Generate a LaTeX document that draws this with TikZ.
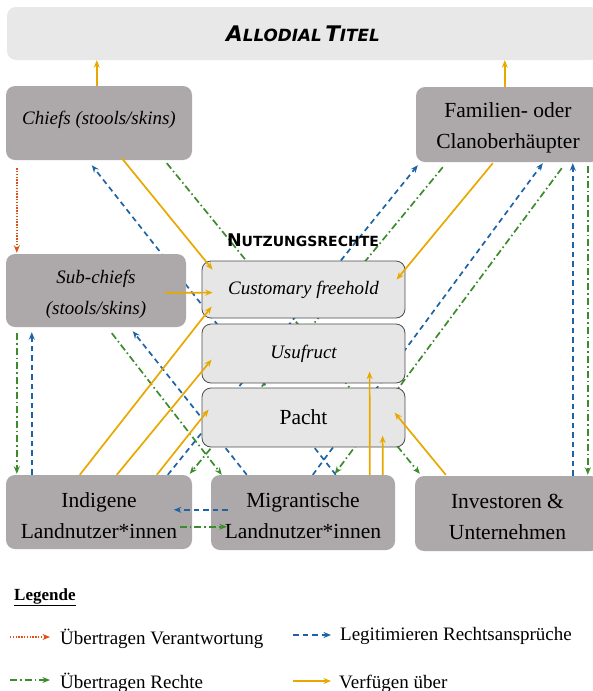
\documentclass[tikz,border=0pt]{standalone}
\usepackage{fontspec}
\setmainfont{Liberation Serif}
\newfontfamily\headfont{DejaVu Sans}
\usetikzlibrary{arrows.meta,calc}

\definecolor{boxdark}{RGB}{173,169,170}
\definecolor{boxlight}{RGB}{230,230,230}
\definecolor{boxtitle}{RGB}{232,232,232}
\definecolor{cOrange}{RGB}{226,80,20}
\definecolor{cBlue}{RGB}{30,100,165}
\definecolor{cGreen}{RGB}{60,140,45}
\definecolor{cYellow}{RGB}{232,168,0}

\newcommand\bigsc[2]{{\fontsize{21.5}{21.5}\selectfont #1}{\fontsize{16.8}{16.8}\selectfont #2}}
\newcommand\midsc[2]{{\fontsize{17.5}{17.5}\selectfont #1}{\fontsize{14}{14}\selectfont #2}}
\newcommand\itx{\fontsize{19}{31}\selectfont\itshape}
% push a two-line text down a little inside its box
\newcommand\lowr[1]{\raisebox{0pt}[\dimexpr\height+7pt\relax]{#1}}
% push a one-line text up a little inside its box
\newcommand\highr[1]{\raisebox{0pt}[\height][\dimexpr\depth+6pt\relax]{#1}}

\pgfdeclarelayer{back}
\pgfdeclarelayer{front}
\pgfsetlayers{back,main,front}

\tikzset{
  boxtext/.style={font=\fontsize{21.5}{31}\selectfont, align=center, inner sep=0pt},
  darkbox/.style={boxtext, fill=boxdark, rounded corners=9pt},
  lightbox/.style={boxtext, fill=boxlight, draw=black!70, line width=0.8pt, rounded corners=9pt},
  titlebox/.style={fill=boxtitle, rounded corners=9pt, inner sep=0pt},
  tipped/.style={-{Stealth[length=7.5pt,width=6pt]}},
  verant/.style={tipped, draw=cOrange, line width=1.5pt, dash pattern=on 1.4pt off 1.4pt},
  legit/.style={tipped, draw=cBlue, line width=1.7pt, dash pattern=on 5.5pt off 4pt},
  rechte/.style={tipped, draw=cGreen, line width=1.7pt, dash pattern=on 7pt off 3pt on 1.6pt off 3pt},
  verfueg/.style={tipped, draw=cYellow, line width=1.7pt},
  legtext/.style={font=\fontsize{19}{19}\selectfont, anchor=base west, inner sep=0pt},
}

\begin{document}
\begin{tikzpicture}[x=1pt,y=-1pt]
\useasboundingbox (0,0) rectangle (593,691);

% ---------- boxes ----------
\node[titlebox, minimum width=592pt, minimum height=53pt] (allodial) at (303,33.5)
  {\headfont\bfseries\itshape \bigsc{A}{LLODIAL} \bigsc{T}{ITEL}};
\node[darkbox, minimum width=186pt, minimum height=74pt] (chiefs) at (99,123)
  {\itx\highr{Chiefs (stools/skins)}};
\node[darkbox, minimum width=184pt, minimum height=75pt] (familien) at (508,124.5)
  {\lowr{Familien- oder}\\Clanoberhäupter};
\node[darkbox, minimum width=180pt, minimum height=73pt] (subchiefs) at (96,290.5)
  {\itx\lowr{Sub-chiefs}\\\itx (stools/skins)};
\node[lightbox, minimum width=203pt, minimum height=57pt] (cf) at (303.5,289.5)
  {\itx Customary freehold};
\node[lightbox, minimum width=203pt, minimum height=59pt] (usu) at (303.5,353.5)
  {\itx Usufruct};
\node[lightbox, minimum width=203pt, minimum height=59pt] (pacht) at (303.5,417.5)
  {Pacht};
\node[darkbox, minimum width=186pt, minimum height=74pt] (indig) at (99,512)
  {\lowr{Indigene}\\Landnutzer*innen};
\node[darkbox, minimum width=184pt, minimum height=75pt] (migr) at (303,512.5)
  {\lowr{Migrantische}\\Landnutzer*innen};
\node[darkbox, minimum width=185pt, minimum height=75pt] (invest) at (507.5,513.5)
  {\lowr{Investoren \&}\\Unternehmen};
\node[inner sep=0pt] (nutz) at (303,240)
  {\headfont\bfseries \midsc{N}{UTZUNGSRECHTE}};

% ---------- connectors behind the boxes ----------
\begin{pgfonlayer}{back}
\draw[verant] ($(chiefs.south west)+(11,8)$) -- ($(subchiefs.north west)+(11,-1)$);
\draw[legit]  ($(migr.north west)+(125,0)$) -- ($(chiefs.south west)+(86,5)$);
\draw[rechte] ($(chiefs.south west)+(161,3)$) -- ($(invest.north west)+(5,-2)$);
\draw[legit]  ($(indig.north west)+(162,0)$) -- ($(familien.south west)+(2,3)$);
\draw[rechte] ($(familien.south west)+(27,5)$) -- ($(indig.north west)+(184,-1)$);
\draw[rechte] ($(subchiefs.south west)+(106,6)$) -- ($(migr.north west)+(11,0)$);
\draw[legit]  ($(migr.north west)+(36,0)$) -- ($(subchiefs.south west)+(127,4)$);
\draw[rechte] ($(subchiefs.south west)+(11,6)$) -- ($(indig.north west)+(11,-1)$);
\draw[legit]  ($(indig.north west)+(26,0)$) -- ($(subchiefs.south west)+(26,5)$);
\draw[legit]  ($(invest.north west)+(158,0)$) -- ($(familien.south west)+(157,1)$);
\draw[rechte] ($(familien.south west)+(172,4)$) -- ($(invest.north west)+(173,-1)$);
\draw[legit]  ($(migr.north west)+(102,0)$) -- ($(familien.south west)+(127,1)$);
\draw[rechte] ($(familien.south west)+(146,6)$) -- ($(migr.north west)+(124,-1)$);
\end{pgfonlayer}

% ---------- connectors in front ----------
\begin{pgfonlayer}{front}
\draw[verfueg] ($(chiefs.north west)+(91,0)$) -- ($(allodial.south west)+(90,0)$);
\draw[verfueg] ($(familien.north west)+(89,0)$) -- ($(allodial.south west)+(498,0)$);
\draw[verfueg] ($(chiefs.south west)+(116,-2)$) -- ($(cf.north west)+(11,9)$);
\draw[verfueg] ($(subchiefs.north west)+(159,39)$) -- ($(cf.north west)+(11,32)$);
\draw[verfueg] ($(indig.north west)+(74,0)$) -- ($(cf.north west)+(10,46)$);
\draw[verfueg] ($(indig.north west)+(111,0)$) -- ($(usu.north west)+(10,36)$);
\draw[verfueg] ($(indig.north west)+(151,0)$) -- ($(pacht.north west)+(7,22)$);
\draw[verfueg] ($(familien.south west)+(77,1)$) -- ($(cf.north west)+(195,19)$);
\draw[verfueg] ($(migr.north west)+(159,0)$) -- ($(usu.north west)+(168,48)$);
\draw[verfueg] ($(migr.north west)+(172,0)$) -- ($(pacht.north west)+(181,48)$);
\draw[verfueg] ($(invest.north west)+(31,-1)$) -- ($(pacht.north west)+(193,25)$);
\draw[legit]  ($(migr.north west)+(17,35)$) -- ($(indig.north west)+(168,35)$);
\draw[rechte] ($(indig.north west)+(174,52)$) -- ($(migr.north west)+(16,52)$);
\end{pgfonlayer}

% ---------- legend ----------
\node[inner sep=0pt, anchor=base west, font=\fontsize{17}{17}\selectfont\bfseries] (leg) at (14,600)
  {\underline{Legende}};
\coordinate (l1a) at (10,637);  \coordinate (l1b) at (50,637);
\coordinate (l2a) at (293,635); \coordinate (l2b) at (331,635);
\coordinate (l3a) at (10,680);  \coordinate (l3b) at (50,680);
\coordinate (l4a) at (293,681); \coordinate (l4b) at (331,681);
\draw[verant] (l1a) -- (l1b);
\draw[legit]  (l2a) -- (l2b);
\draw[rechte] (l3a) -- (l3b);
\draw[verfueg] (l4a) -- (l4b);
\node[legtext] (t1) at (60,644) {Übertragen Verantwortung};
\node[legtext] (t2) at (340,640) {Legitimieren Rechtsansprüche};
\node[legtext] (t3) at (60,688) {Übertragen Rechte};
\node[legtext] (t4) at (339,688) {Verfügen über};
\end{tikzpicture}
\end{document}
